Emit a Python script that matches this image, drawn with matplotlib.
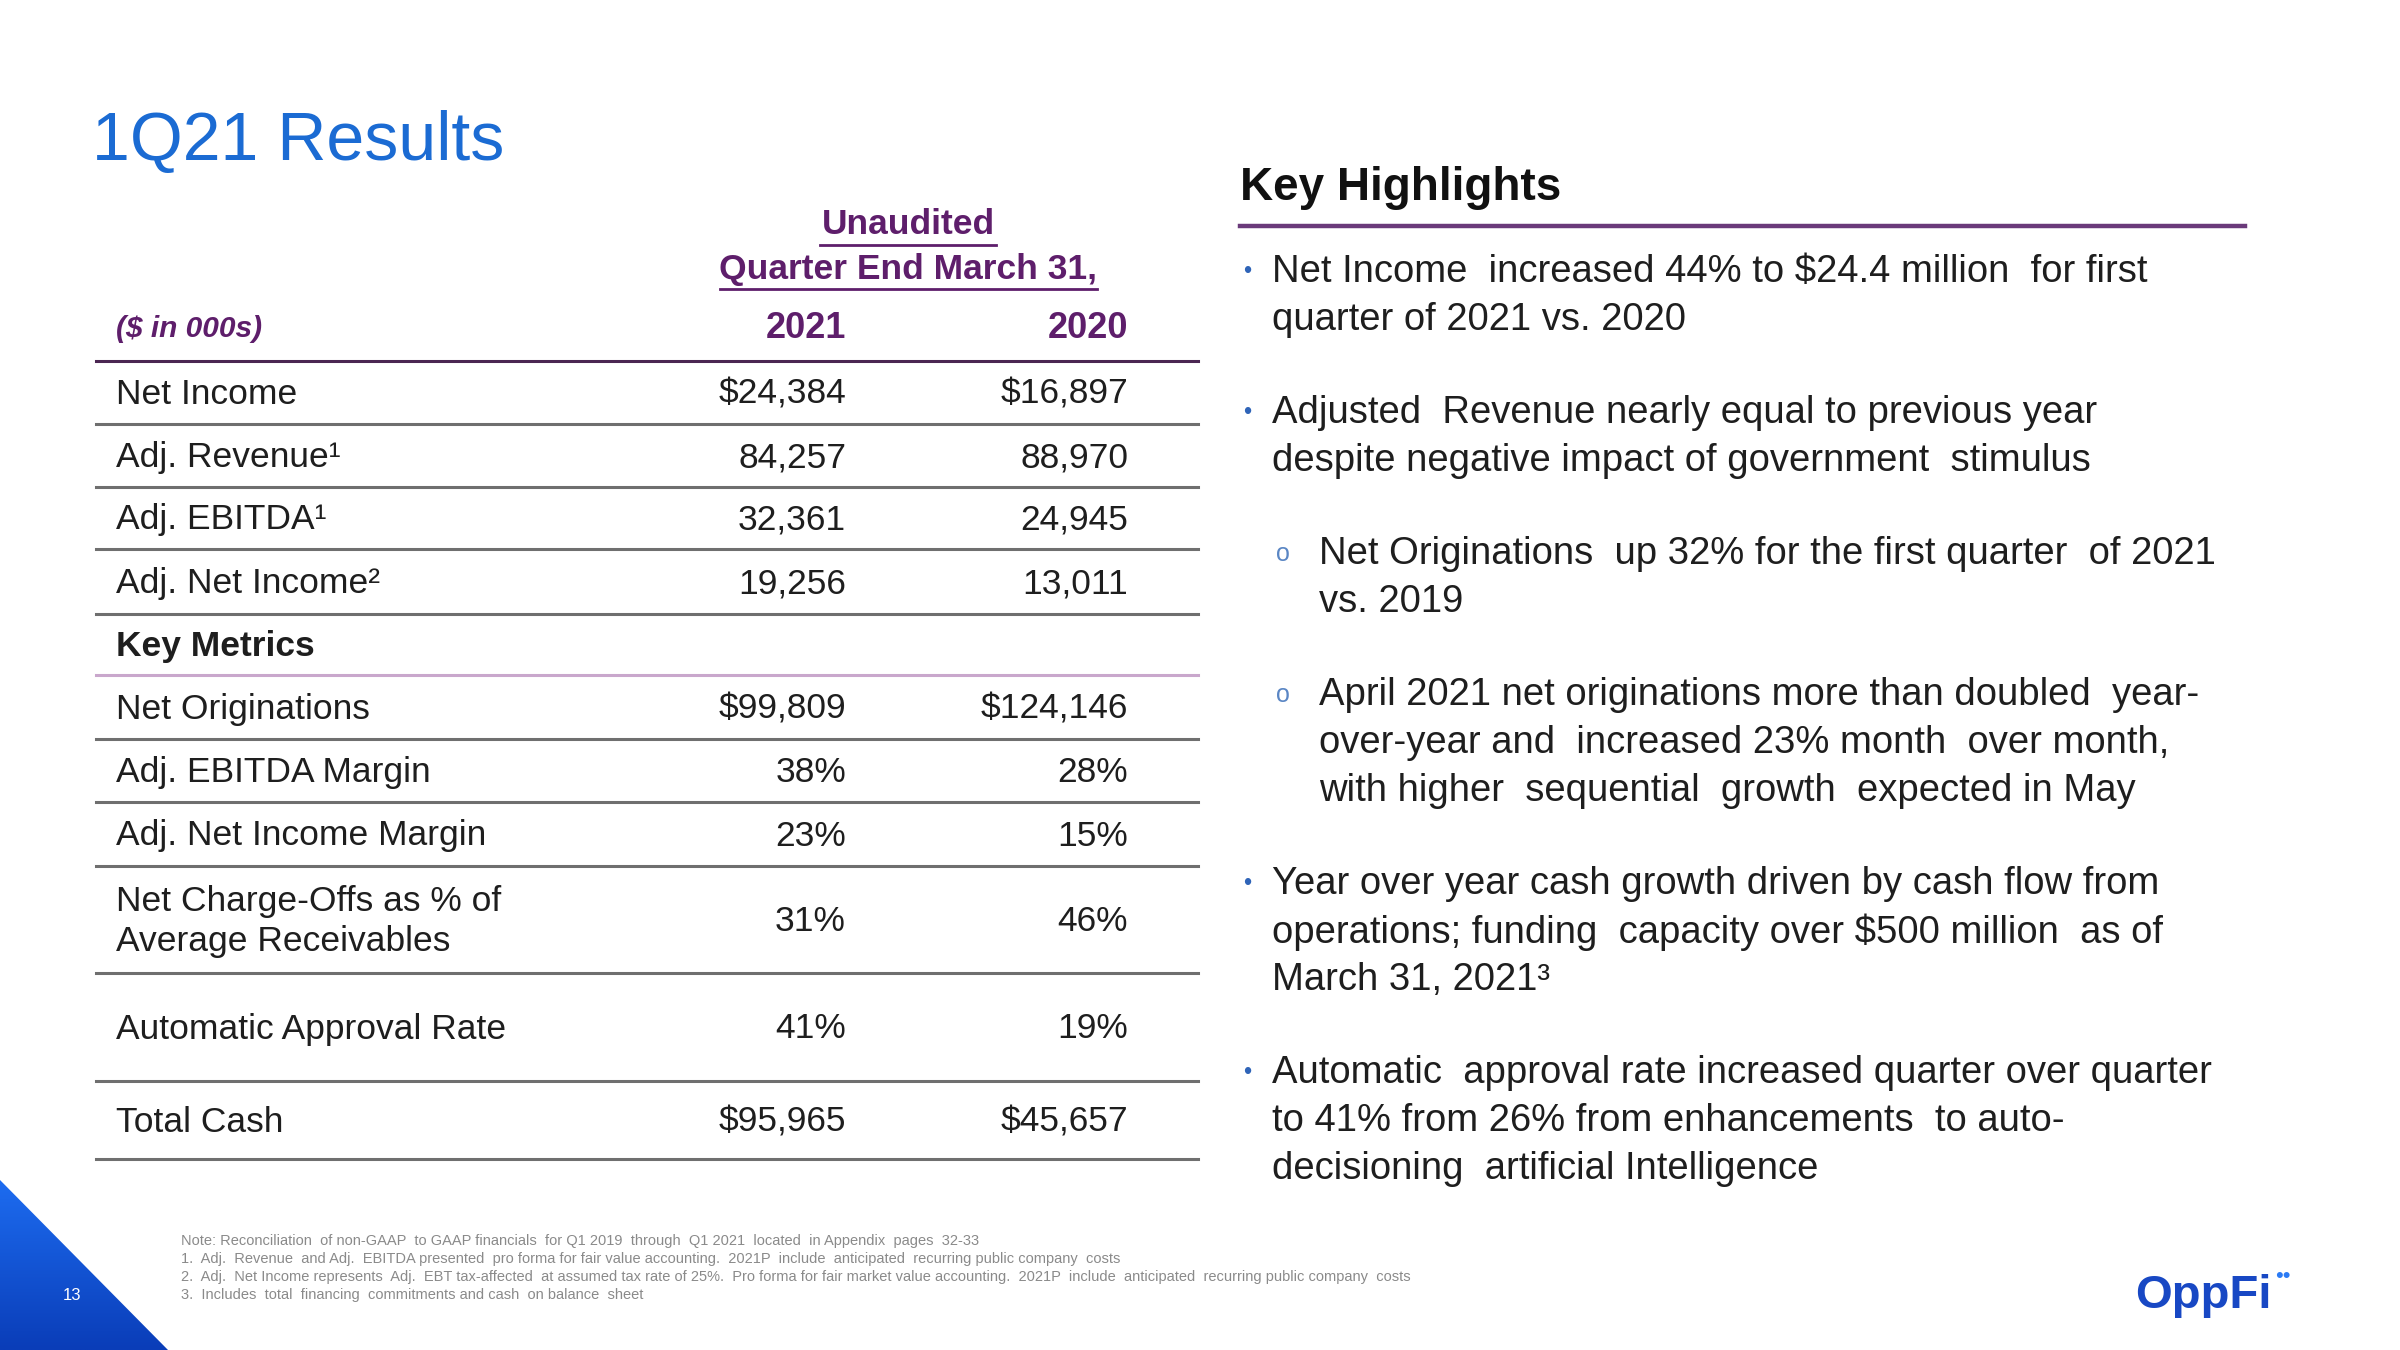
import numpy as np
import matplotlib.pyplot as plt
from matplotlib.patches import Polygon

plt.rcParams['font.family'] = ['Liberation Sans', 'DejaVu Sans']

# ---- table data ----
row_labels = ["Net Income", "Adj. Revenue¹", "Adj. EBITDA¹", "Adj. Net Income²",
              "Key Metrics",
              "Net Originations", "Adj. EBITDA Margin", "Adj. Net Income Margin",
              "Net Charge-Offs as % of\nAverage Receivables", "Automatic Approval Rate",
              "Total Cash"]
vals_2021 = ["$24,384", "84,257", "32,361", "19,256", "",
             "$99,809", "38%", "23%", "31%", "41%", "$95,965"]
vals_2020 = ["$16,897", "88,970", "24,945", "13,011", "",
             "$124,146", "28%", "15%", "46%", "19%", "$45,657"]
year_labels = ["2021", "2020"]

# ---- highlights (level, lines) ----
highlights = [
    (0, ["Net Income  increased 44% to $24.4 million  for first",
         "quarter of 2021 vs. 2020"]),
    (0, ["Adjusted  Revenue nearly equal to previous year",
         "despite negative impact of government  stimulus"]),
    (1, ["Net Originations  up 32% for the first quarter  of 2021",
         "vs. 2019"]),
    (1, ["April 2021 net originations more than doubled  year-",
         "over-year and  increased 23% month  over month,",
         "with higher  sequential  growth  expected in May"]),
    (0, ["Year over year cash growth driven by cash flow from",
         "operations; funding  capacity over $500 million  as of",
         "March 31, 2021³"]),
    (0, ["Automatic  approval rate increased quarter over quarter",
         "to 41% from 26% from enhancements  to auto-",
         "decisioning  artificial Intelligence"]),
]

footnotes = [
    "Note: Reconciliation  of non-GAAP  to GAAP financials  for Q1 2019  through  Q1 2021  located  in Appendix  pages  32-33",
    "1.  Adj.  Revenue  and Adj.  EBITDA presented  pro forma for fair value accounting.  2021P  include  anticipated  recurring public company  costs",
    "2.  Adj.  Net Income represents  Adj.  EBT tax-affected  at assumed tax rate of 25%.  Pro forma for fair market value accounting.  2021P  include  anticipated  recurring public company  costs",
    "3.  Includes  total  financing  commitments and cash  on balance  sheet",
]

# ---- layout / style ----
purple = "#5e1e6b"
title_blue = "#1b6bd3"
text_col = "#1e1e1e"
gray_line = "#6f6f6f"

fig = plt.figure(figsize=(24, 13.5), dpi=100)
ax = fig.add_axes([0, 0, 1, 1])
ax.set_xlim(0, 2400)
ax.set_ylim(1350, 0)
ax.axis('off')

ax.text(92, 160, "1Q21 Results", fontsize=49, color=title_blue, va='baseline')

# table header
tx0, tx1 = 96, 1198
col_x = [846, 1128]
ax.text(908, 225, "Unaudited", fontsize=25.5, fontweight='bold', color=purple,
        ha='center', va='center')
ax.text(908, 269, "Quarter End March 31,", fontsize=25.5, fontweight='bold', color=purple,
        ha='center', va='center')
ax.plot([820, 996], [245, 245], color=purple, lw=2)
ax.plot([720, 1097], [289, 289], color=purple, lw=2)
ax.text(116, 329, "($ in 000s)", fontsize=21.5, fontweight='bold', style='italic',
        color=purple, va='center')
for x, yl in zip(col_x, year_labels):
    ax.text(x, 328, yl, fontsize=26, fontweight='bold', color=purple, ha='right', va='center')

header_y = 361
ax.plot([tx0, tx1], [header_y, header_y], color="#4b2652", lw=2.2)
row_heights = [63, 63, 62, 65, 61, 64, 63, 64, 107, 108, 78]
edges = header_y + np.cumsum(row_heights)
tops = np.concatenate([[header_y], edges[:-1]])
for i, (lab, a, b) in enumerate(zip(row_labels, vals_2021, vals_2020)):
    yc = (tops[i] + edges[i]) / 2
    bold = lab == "Key Metrics"
    ax.text(116, yc + 2, lab, fontsize=25.5, color=text_col, va='center',
            fontweight='bold' if bold else 'normal', linespacing=1.25)
    ax.text(col_x[0], yc + 2, a, fontsize=25.5, color=text_col, ha='right', va='center')
    ax.text(col_x[1], yc + 2, b, fontsize=25.5, color=text_col, ha='right', va='center')
    lc = "#c9a7cc" if bold else gray_line
    ax.plot([tx0, tx1], [edges[i], edges[i]], color=lc, lw=2.2)

# key highlights
ax.text(1240, 188, "Key Highlights", fontsize=33, fontweight='bold', color="#111111", va='center')
ax.plot([1240, 2245], [226, 226], color="#6a3a7a", lw=3.2)
y = 272
for level, lines in highlights:
    if level == 0:
        ax.text(1247, y, "•", fontsize=17, color="#2f64b8", ha='center', va='center')
        x = 1272
    else:
        ax.text(1283, y, "o", fontsize=18, color="#5a86c4", ha='center', va='center')
        x = 1319
    for ln in lines:
        ax.text(x, y, ln, fontsize=27.5, color=text_col, va='center')
        y += 48
    y += 45

# footnotes
for i, fn in enumerate(footnotes):
    ax.text(181, 1241 + i * 18, fn, fontsize=10.5, color="#8a8a8a", va='center')

# page corner triangle with gradient
tri = Polygon([[0, 1180], [0, 1350], [168, 1350]], closed=True, facecolor='none', edgecolor='none')
ax.add_patch(tri)
grad = np.linspace(0, 1, 100).reshape(-1, 1)
im = ax.imshow(grad, extent=[0, 168, 1350, 1180], cmap=plt.matplotlib.colors.LinearSegmentedColormap.from_list(
    "b", ["#1d6cf0", "#0a3db8"]), aspect='auto', zorder=1)
im.set_clip_path(tri)
ax.text(72, 1296, "13", fontsize=12, color="white", ha='center', va='center', zorder=2)

# logo
ax.text(2135, 1308, "OppFi", fontsize=34, fontweight='bold', color="#1848c4", va='baseline')
ax.text(2275, 1277, "••", fontsize=16, color="#2b7bf5", va='center')

ax.set_xlim(0, 2400)
ax.set_ylim(1350, 0)
fig.savefig("out.png", dpi=100, facecolor='white')
